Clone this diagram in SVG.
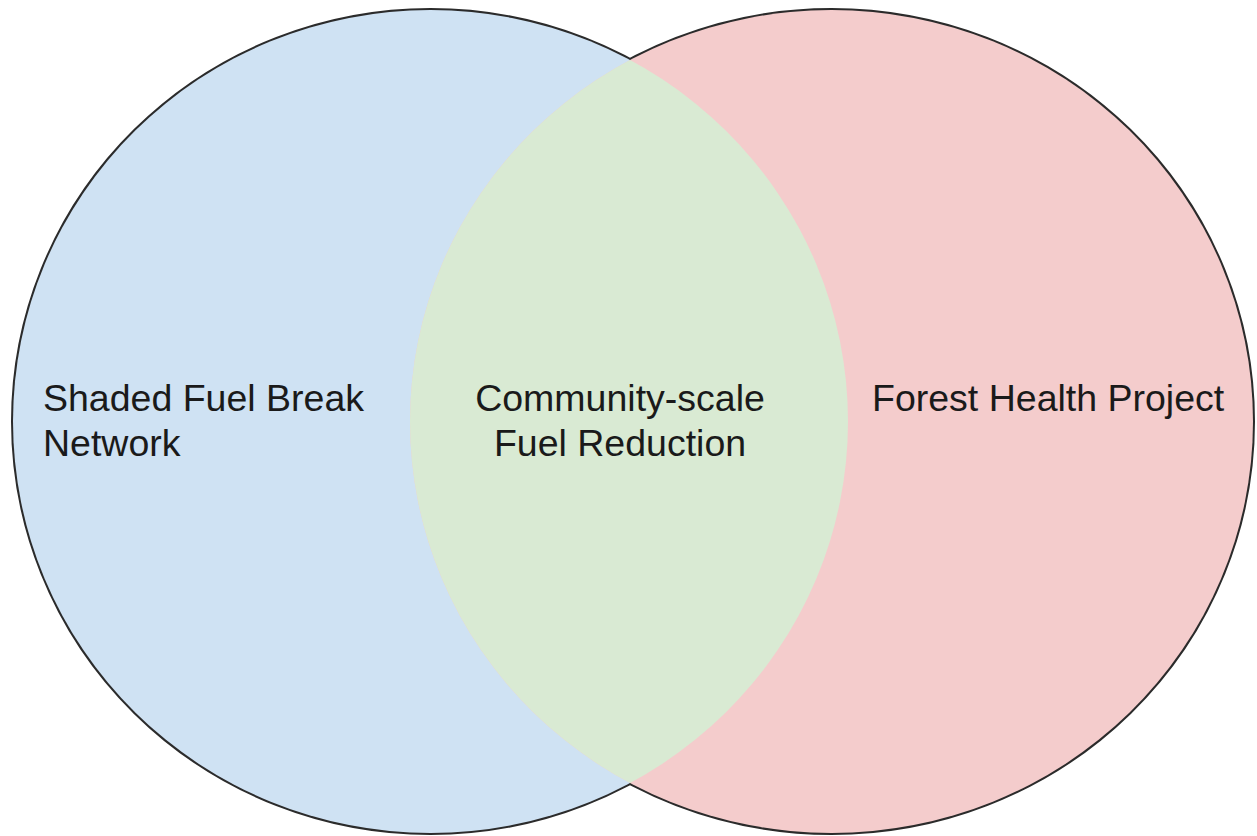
<svg xmlns="http://www.w3.org/2000/svg" width="1257" height="836" viewBox="0 0 1257 836">
<style>
.lbl{font-family:"Liberation Sans",Arial,sans-serif;font-size:37.5px;fill:#1a1a1a}
.outline{fill:none;stroke:#2b2b2b;stroke-width:4}
</style>
<defs>
<clipPath id="clipLeft"><ellipse cx="430.5" cy="421.5" rx="417.5" ry="411.5"/></clipPath>
</defs>
<rect width="1257" height="836" fill="#ffffff"/>
<g id="outlines">
<ellipse class="outline" cx="430.5" cy="421.5" rx="417.5" ry="411.5"/>
<ellipse class="outline" cx="831.5" cy="421.5" rx="421.5" ry="411.5"/>
</g>
<g id="shaded-fuel-break">
<ellipse cx="430.5" cy="421.5" rx="417.5" ry="411.5" fill="#cfe2f3"/>
</g>
<g id="forest-health">
<ellipse cx="831.5" cy="421.5" rx="421.5" ry="411.5" fill="#f4cccc"/>
</g>
<g id="community-scale">
<ellipse cx="831.5" cy="421.5" rx="421.5" ry="411.5" fill="#d9ead3" clip-path="url(#clipLeft)"/>
</g>
<g id="labels">
<text class="lbl" x="43" y="411">Shaded Fuel Break</text>
<text class="lbl" x="43" y="456">Network</text>
<text class="lbl" x="620" y="411" text-anchor="middle">Community-scale</text>
<text class="lbl" x="620" y="456" text-anchor="middle">Fuel Reduction</text>
<text class="lbl" x="872" y="411">Forest Health Project</text>
</g>
</svg>
